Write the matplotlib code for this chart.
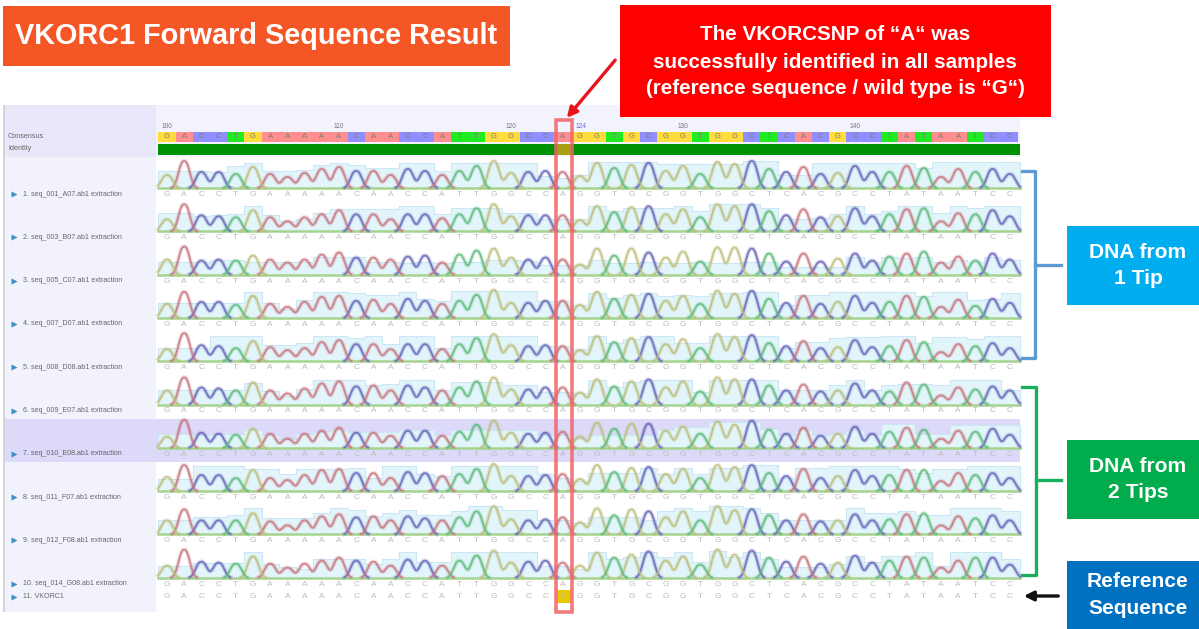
import matplotlib
matplotlib.use('Agg')
import matplotlib.pyplot as plt
import numpy as np
from matplotlib.patches import Rectangle

SEQUENCE = 'GACCTGAAAAACAACCATTGGCCAGGTGCGGTGGCTCACGCCTATAATCC'
REFERENCE = 'GACCTGAAAAACAACCATTGGCCGGGTGCGGTGGCTCACGCCTATAATCC'
SAMPLES = ['1. seq_001_A07.ab1 extraction', '2. seq_003_B07.ab1 extraction',
           '3. seq_005_C07.ab1 extraction', '4. seq_007_D07.ab1 extraction',
           '5. seq_008_D08.ab1 extraction', '6. seq_009_E07.ab1 extraction',
           '7. seq_010_E08.ab1 extraction', '8. seq_011_F07.ab1 extraction',
           '9. seq_012_F08.ab1 extraction', '10. seq_014_G08.ab1 extraction']
RULER_LABELS = ['100', '110', '120', '130', '140']
RULER_IDX = [0, 10, 20, 30, 40]
SNP_IDX = 23

# peak height of each called base
PEAKS = [
    [13,27,16,16,14,21,14,11,15,19,21,17,17,13,19,17,13,17,22,27,15,16,17,16,12,25,20,23,25,17,22,14,26,24,27,19,16,21,14,15,22,16,16,22,20,11,19,16,19,14],
    [12,27,16,15,14,21,14,10,14,17,21,17,17,12,17,17,13,17,23,27,15,16,16,16,11,25,19,24,25,17,22,14,27,25,27,20,16,22,14,15,23,15,17,22,23,10,18,17,21,15],
    [15,28,14,15,14,19,15,12,15,20,22,17,17,15,18,19,12,20,24,26,17,15,17,15,10,26,19,26,22,17,23,13,27,27,26,21,13,21,13,16,21,14,18,21,23,12,18,14,21,15],
    [14,26,16,16,13,22,14,11,16,21,22,17,18,14,19,17,14,17,23,28,15,15,17,17,13,26,19,23,24,17,22,14,27,24,27,19,15,22,14,16,22,15,16,22,21,11,18,12,19,15],
    [12,28,16,15,13,20,14,11,13,19,21,17,17,12,17,17,12,17,23,27,16,15,16,15,11,25,19,23,24,17,22,13,27,24,26,18,15,20,13,14,21,14,15,21,19,9,17,15,18,13],
    [14,27,17,16,14,22,14,11,16,21,23,18,19,14,19,17,14,17,23,27,15,15,17,17,12,25,18,23,25,17,23,13,27,25,25,19,14,20,13,14,21,14,13,22,20,9,17,15,18,14],
    [11,28,15,14,13,19,14,9,14,17,20,15,15,12,17,17,12,16,23,27,15,14,15,16,11,25,19,24,24,17,21,14,26,23,27,18,14,20,12,14,21,14,16,20,18,9,17,16,19,13],
    [14,26,16,16,13,21,13,11,16,21,22,18,18,13,19,18,15,17,22,27,15,15,16,17,12,26,19,23,24,17,22,13,26,24,26,18,15,22,13,15,21,15,16,21,21,10,18,16,18,13],
    [14,25,14,14,14,21,13,9,14,18,20,17,18,14,18,16,14,17,23,28,15,14,15,17,12,26,19,25,23,17,23,14,28,24,25,19,14,20,13,14,20,14,15,20,21,9,18,16,19,14],
    [12,28,16,15,14,21,14,10,14,17,20,17,16,12,18,17,12,17,22,27,15,16,17,15,12,25,20,23,26,17,21,13,28,23,27,20,16,21,14,15,22,15,17,21,20,10,17,20,20,13],
]

# top of the light blue quality bar of each base
QUALITY = [
    [17,17,17,16,22,25,17,17,18,23,25,23,20,20,25,25,17,25,25,25,25,25,12,10,13,26,26,26,26,24,24,24,24,24,27,27,13,13,25,25,25,25,25,25,20,26,26,26,26,26],
    [18,18,15,16,17,25,16,10,12,18,22,22,22,22,25,25,17,23,23,23,18,18,12,12,12,25,20,23,23,23,25,20,27,27,27,23,12,12,13,17,25,17,20,25,25,18,25,23,25,25],
    [13,13,13,15,15,13,13,13,13,18,18,18,13,13,12,13,12,13,13,15,15,14,10,10,10,15,12,12,13,12,12,13,12,12,13,13,8,8,8,8,18,13,18,17,18,13,15,13,18,15],
    [15,15,15,15,15,26,15,9,18,26,26,25,23,23,26,19,17,27,27,27,27,27,17,17,13,25,20,23,25,22,23,22,25,25,26,26,13,23,23,26,26,26,26,26,22,26,26,18,19,25],
    [13,13,13,25,25,25,16,16,18,25,25,23,25,17,25,25,13,25,25,25,25,25,15,15,12,25,18,22,25,25,18,18,25,25,25,25,13,19,19,23,24,24,25,25,18,24,24,22,25,25],
    [15,15,15,15,15,22,14,9,16,25,25,25,20,21,25,25,15,23,23,23,20,20,13,13,12,25,18,23,25,25,25,13,25,25,25,25,15,15,15,20,25,15,20,21,21,20,25,25,25,15],
    [14,14,13,14,14,18,13,9,14,16,18,16,16,16,18,18,13,18,18,18,18,18,13,13,9,13,13,13,13,18,21,21,26,26,26,19,13,18,13,14,18,13,24,24,14,14,23,23,23,23],
    [12,12,25,25,25,22,22,17,22,22,22,23,13,25,25,17,15,25,25,25,25,25,17,13,10,18,18,18,23,17,23,17,23,23,26,26,13,23,23,25,25,25,25,22,18,22,22,25,25,25],
    [14,14,17,17,19,26,16,16,16,21,26,24,18,21,24,19,19,23,28,28,24,24,14,14,11,17,17,17,14,23,26,23,28,28,26,21,14,14,14,14,26,21,21,23,19,19,26,26,26,23],
    [12,12,15,15,15,26,14,11,9,19,19,19,14,19,26,16,16,26,26,26,26,26,12,12,9,26,19,21,26,21,26,16,27,21,26,19,11,11,11,14,22,16,22,22,26,12,26,26,26,19],
]

TRACE_COLORS = {'A': '#c8737c', 'C': '#6464b8', 'G': '#bcbe7a', 'T': '#5cba78'}
CELL_COLORS = {'A': '#ff8f8f', 'C': '#8f8fff', 'G': '#ffdc3c', 'T': '#20ea20'}

X0, STEP = 167.0, 17.2
ROW0, ROW_STEP = 188.0, 43.3
TEXT_FONT = 'Liberation Sans'


def base_x(i):
    return X0 + STEP * i


def box(ax, x0, y0, x1, y1, color, z=1):
    ax.add_patch(Rectangle((x0, y0), x1 - x0, y1 - y0, fc=color, ec='none', zorder=z))


def plot_background(ax):
    box(ax, 3, 105, 5, 612, '#d4d4dc')
    box(ax, 5, 105, 1020, 157, '#f3f3fd')
    box(ax, 5, 105, 156, 612, '#f2f2fd')
    box(ax, 5, 105, 156, 157, '#e8e8fa')
    box(ax, 5, 419, 1020, 462, '#dcd9f9')


def plot_header(ax):
    ax.text(8, 137, 'Consensus', fontsize=5.2, color='#666666', va='center', family=TEXT_FONT)
    ax.text(8, 148, 'Identity', fontsize=5.2, color='#666666', va='center', family=TEXT_FONT)
    for idx, label in zip(RULER_IDX, RULER_LABELS):
        ax.text(base_x(idx), 126, label, fontsize=4.8, color='#777777', ha='center', va='center', family=TEXT_FONT)
    ax.text(581, 126, '124', fontsize=4.8, color='#6a6ad0', ha='center', va='center', family=TEXT_FONT)
    for i, ch in enumerate(SEQUENCE):
        x = base_x(i)
        box(ax, x - STEP / 2, 132, x + STEP / 2, 142, CELL_COLORS[ch], 2)
        ax.text(x, 137, ch, fontsize=5.5, color='#777777', ha='center', va='center', family=TEXT_FONT, zorder=3)
    box(ax, 158, 144, 1020, 155, '#009200', 2)
    box(ax, 557, 144, 571, 155, '#a8a012', 3)


def plot_row(ax, row, label, peaks, quality):
    base = ROW0 + ROW_STEP * row
    x_edges = [base_x(i) - STEP / 2 for i in range(len(quality))] + [1020]
    tops = [base - q for q in quality] + [base - quality[-1]]
    ax.fill_between(x_edges, base, tops, step='post', fc='#e2f5fb', ec='#cbe6f4', lw=0.8, zorder=2)
    ax.plot([158, 1020], [base, base], color='#a6d38e', lw=1.8, zorder=3)

    xs = np.linspace(158, 1020, 1800)
    for ch in 'CAGT':
        ys = np.zeros_like(xs)
        for i, c in enumerate(SEQUENCE):
            if c == ch:
                ys += peaks[i] * np.exp(-(np.abs(xs - base_x(i)) / 7.2) ** 2.5)
        ys[ys < 0.4] = np.nan
        ax.plot(xs, base - ys, color=TRACE_COLORS[ch], lw=3.2, alpha=0.22, zorder=4)
        ax.plot(xs, base - ys, color=TRACE_COLORS[ch], lw=1.4, alpha=0.8, zorder=5)

    for i, ch in enumerate(SEQUENCE):
        ax.text(base_x(i), base + 6.5, ch, fontsize=6, color='#bcbcbc', ha='center', va='center',
                family=TEXT_FONT, zorder=3)
    ax.plot(14, base + 6, marker='>', ms=4, color='#3a8fc8', mec='none', zorder=3)
    ax.text(23, base + 6, label, fontsize=5.1, color='#666666', va='center', family=TEXT_FONT, zorder=3)


def plot_reference_row(ax):
    y = ROW0 + ROW_STEP * 9 + 19
    box(ax, 557, y - 7, 571, y + 6, '#e8c800', 3)
    for i, ch in enumerate(REFERENCE):
        ax.text(base_x(i), y, ch, fontsize=6, color='#bcbcbc', ha='center', va='center',
                family=TEXT_FONT, zorder=4)
    ax.plot(14, y, marker='>', ms=4, color='#3a8fc8', mec='none', zorder=3)
    ax.text(23, y, '11. VKORC1', fontsize=5.1, color='#666666', va='center', family=TEXT_FONT, zorder=3)


def plot_annotations(ax):
    box(ax, 3, 6, 510, 66, '#f45625', 6)
    ax.text(15, 36, 'VKORC1 Forward Sequence Result', fontsize=20.8, color='white', weight='bold',
            va='center', family=TEXT_FONT, zorder=7)

    box(ax, 620, 5, 1051, 117, '#ff0000', 6)
    for y, line in zip([35, 62, 89], ['The VKORCSNP of “A“ was', 'successfully identified in all samples',
                                      '(reference sequence / wild type is “G“)']):
        ax.text(835, y, line, fontsize=14.9, color='white', weight='bold', ha='center', va='center',
                family=TEXT_FONT, zorder=7)

    ax.add_patch(Rectangle((556, 120), 15.5, 492, fc='none', ec='#ef6468', lw=2.6, alpha=0.85, zorder=8))
    ax.annotate('', xy=(565, 120), xytext=(617, 58), zorder=8,
                arrowprops=dict(arrowstyle='-|>', color='#e8141c', lw=2.4, mutation_scale=15))

    for top, bottom, color, side in [(171, 358, '#5b9bd2', 1035), (387, 575, '#1bae5e', 1036)]:
        ax.plot([1022, side, side, 1022], [top, top, bottom, bottom], color=color, lw=2.4,
                solid_joinstyle='round', zorder=5)
        ax.plot([side, 1061], [(top + bottom) / 2 - (0 if top < 300 else 1)] * 2, color=color, lw=2.4, zorder=5)

    ax.annotate('', xy=(1021, 596), xytext=(1061, 596), zorder=5,
                arrowprops=dict(arrowstyle='-|>', color='#111111', lw=2.4, mutation_scale=14))

    for y0, y1, color, lines in [(226, 305, '#00aeef', ['DNA from', '1 Tip']),
                                 (440, 519, '#00ac4c', ['DNA from', '2 Tips']),
                                 (561, 629, '#0070c0', ['Reference', 'Sequence'])]:
        box(ax, 1067, y0, 1199, y1, color, 6)
        mid = (y0 + y1) / 2
        for y, line in zip([mid - 13.5, mid + 13.5], lines):
            ax.text(1138, y, line, fontsize=15.1, color='white', weight='bold', ha='center', va='center',
                    family=TEXT_FONT, zorder=7)


def plot_figure():
    fig = plt.figure(figsize=(11.99, 6.29), dpi=100)
    ax = fig.add_axes([0, 0, 1, 1])
    ax.set_xlim(0, 1199)
    ax.set_ylim(629, 0)
    ax.axis('off')

    plot_background(ax)
    plot_header(ax)
    for row, label in enumerate(SAMPLES):
        plot_row(ax, row, label, PEAKS[row], QUALITY[row])
    plot_reference_row(ax)
    plot_annotations(ax)
    fig.savefig('out.png', dpi=100)


if __name__ == '__main__':
    plot_figure()
